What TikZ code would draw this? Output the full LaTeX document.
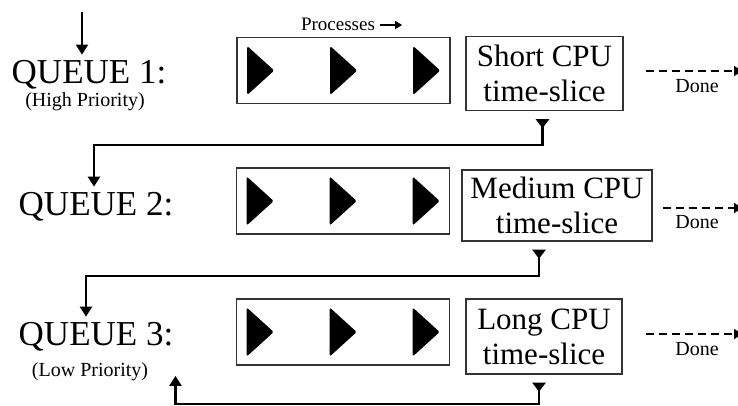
\documentclass[tikz,border=0pt]{standalone}
\usepackage{fontspec}
\setmainfont{Liberation Serif}
\usepackage{tikz}
\usetikzlibrary{arrows.meta,positioning}

\tikzset{
  queue/.style={anchor=base,inner sep=5pt,font=\fontsize{35}{40}\selectfont},
  prio/.style={anchor=base,inner sep=0pt,font=\fontsize{20}{22}\selectfont},
  procbox/.style={draw=black!80,line width=1.6pt,minimum width=213pt,minimum height=66pt,inner sep=0pt},
  slice/.style={draw=black!80,line width=1.4pt,align=center,inner sep=0pt,minimum height=74pt,font=\fontsize{31}{35}\selectfont},
  feed/.style={line width=2.3pt,shorten <=8pt,{Triangle[reversed,width=13pt,length=9pt]}-{Triangle[width=12pt,length=10pt]}},
  done/.style={dashed,dash pattern=on 8pt off 5pt,line width=1.8pt,-{Triangle[width=10pt,length=8pt]}},
  donelbl/.style={inner sep=0pt,font=\fontsize{20}{22}\selectfont}
}

\begin{document}
\begin{tikzpicture}[x=1pt,y=-1pt]
  \useasboundingbox (0,0) rectangle (738,405);

  % queues
  \node[queue] (q1) at (89,83) {QUEUE 1:};
  \node[prio] (hi) at (85,106) {(High Priority)};
  \node[queue] (q2) at (96,215) {QUEUE 2:};
  \node[queue] (q3) at (96,345) {QUEUE 3:};
  \node[prio] (lo) at (90,376) {(Low Priority)};

  % process lines
  \node[procbox] (proc1) at (343.5,70.5) {};
  \node[procbox] (proc2) at (343,201) {};
  \node[procbox] (proc3) at (343,332) {};
  \foreach \b in {1,2,3}
    \foreach \dx in {11,94,177}
      \fill[rounded corners=2pt] ([xshift=\dx pt]proc\b.west) ++(0,-24.5) -- ++(27,24.5) -- ++(-27,24.5) -- cycle;

  \node[font=\fontsize{19}{21}\selectfont,inner sep=0pt] (plbl) at (338,24) {Processes};
  \draw[line width=1.5pt,-{Triangle[width=8pt,length=7pt]}] (plbl.east) ++(5,1) -- ++(22,0);

  % cpu slices
  \node[slice,minimum width=157pt] (slice1) at (544.5,73.5) {Short CPU\\time-slice};
  \node[slice,minimum width=190pt,minimum height=71pt] (slice2) at (557,205.5) {Medium CPU\\time-slice};
  \node[slice,minimum width=156pt,minimum height=75pt] (slice3) at (544,336.5) {Long CPU\\time-slice};

  \coordinate (in) at (82,12);
  \coordinate (out1) at (742,71);
  \coordinate (out2) at (742,208);
  \coordinate (out3) at (742,334);

  \node[donelbl] (done1) at (697,86) {Done};
  \node[donelbl] (done2) at (697,222) {Done};
  \node[donelbl] (done3) at (697,349) {Done};

  \draw[line width=2pt,-{Triangle[width=12pt,length=10pt]}] (in) -- ([xshift=-7pt]q1.north);

  \draw[done,shorten <=22pt] (slice1.east |- out1) -- (out1);
  \draw[done,shorten <=10pt] (slice2.east |- out2) -- (out2);
  \draw[done,shorten <=23pt] (slice3.east |- out3) -- (out3);

  \draw[feed] ([xshift=-2pt]slice1.south) -- ++(0,34) -| ([xshift=-2pt]q2.north);
  \draw[feed] ([xshift=-18pt]slice2.south) -- ++(0,34) -| ([xshift=-10pt]q3.north);
  \draw[feed] ([xshift=-5pt]slice3.south) -- ++(0,29) -| ([xshift=-3pt,yshift=-20pt]q3.south east);
\end{tikzpicture}
\end{document}
